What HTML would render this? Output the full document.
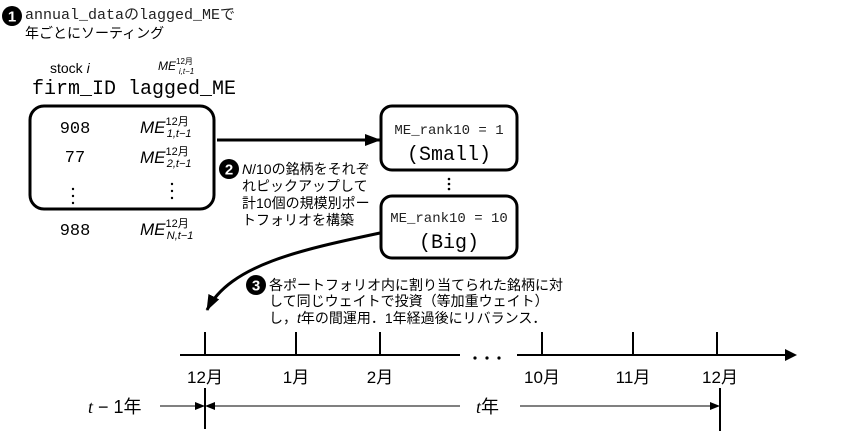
<!DOCTYPE html>
<html><head><meta charset="utf-8"><style>
body{margin:0;background:#fff}
svg{display:block}
.m{font-family:"Liberation Mono","Noto Sans CJK JP",monospace}
.s{font-family:"Liberation Sans","Noto Sans CJK JP",sans-serif}
</style></head><body>
<svg width="858" height="435" viewBox="0 0 858 435" xmlns="http://www.w3.org/2000/svg">
<defs><marker id="a" markerWidth="10" markerHeight="8" refX="9" refY="4" orient="auto" markerUnits="userSpaceOnUse"><path d="M0,0L10,4L0,8z" fill="#000"/></marker>
<marker id="b" markerWidth="16" markerHeight="12" refX="15" refY="6" orient="auto" markerUnits="userSpaceOnUse"><path d="M0,0L16,6L0,12z" fill="#000"/></marker></defs>
<circle cx="12" cy="16" r="10"/><text x="12" y="21.5" fill="#fff" font-size="15" font-weight="bold" text-anchor="middle" class="s">1</text>
<text x="25" y="19" font-size="15" class="m" fill="#222">annual_dataのlagged_MEで</text>
<text x="25" y="38" font-size="14" class="s">年ごとにソーティング</text>
<text x="50" y="73" font-size="14" class="s">stock <tspan font-style="italic">i</tspan></text>
<text x="158" y="70" font-size="12" font-style="italic" class="s">ME<tspan font-size="8" font-style="normal" dy="-6">12月</tspan><tspan font-size="8" dx="-14" dy="10">i,t−1</tspan></text>
<text x="32" y="94" font-size="20" class="m">firm_ID lagged_ME</text>
<rect x="30" y="106" width="184" height="103" rx="14" fill="none" stroke="#000" stroke-width="3"/>
<g font-size="17" class="m" text-anchor="middle"><text x="75" y="133">908</text><text x="75" y="162">77</text><text x="75" y="235">988</text></g>
<g class="s" font-style="italic" font-size="17">
<text x="140" y="133">ME<tspan font-size="11" font-style="normal" dy="-8">12月</tspan><tspan font-size="11" dx="-22" dy="12">1,t−1</tspan></text>
<text x="140" y="163">ME<tspan font-size="11" font-style="normal" dy="-8">12月</tspan><tspan font-size="11" dx="-22" dy="12">2,t−1</tspan></text>
<text x="140" y="235">ME<tspan font-size="11" font-style="normal" dy="-8">12月</tspan><tspan font-size="11" dx="-22" dy="12">N,t−1</tspan></text>
</g>
<g fill="#000"><circle cx="73" cy="189" r="1.2"/><circle cx="73" cy="196" r="1.2"/><circle cx="73" cy="203" r="1.2"/>
<circle cx="172" cy="184" r="1.2"/><circle cx="172" cy="191" r="1.2"/><circle cx="172" cy="198" r="1.2"/>
<circle cx="449" cy="179" r="1.3"/><circle cx="449" cy="184" r="1.3"/><circle cx="449" cy="189" r="1.3"/></g>
<line x1="217" y1="140" x2="380" y2="140" stroke="#000" stroke-width="3" marker-end="url(#b)"/>
<rect x="381" y="106" width="136" height="64" rx="11" fill="none" stroke="#000" stroke-width="3"/>
<rect x="381" y="196" width="136" height="62" rx="11" fill="none" stroke="#000" stroke-width="3"/>
<g class="m" text-anchor="middle"><text x="449" y="134" font-size="14" fill="#222">ME_rank10 = 1</text><text x="449" y="160" font-size="20">(Small)</text>
<text x="449" y="222" font-size="14" fill="#222">ME_rank10 = 10</text><text x="449" y="248" font-size="20">(Big)</text></g>
<circle cx="229" cy="169" r="10"/><text x="229" y="174.5" fill="#fff" font-size="15" font-weight="bold" text-anchor="middle" class="s">2</text>
<g class="s" font-size="14"><text x="242" y="174"><tspan font-style="italic">N</tspan>/10の銘柄をそれぞ</text><text x="242" y="191">れピックアップして</text><text x="242" y="208">計10個の規模別ポー</text><text x="242" y="225">トフォリオを構築</text></g>
<path d="M380,233 C300,250 230,265 207,310" fill="none" stroke="#000" stroke-width="3" marker-end="url(#b)"/>
<circle cx="256" cy="285" r="10"/><text x="256" y="290.5" fill="#fff" font-size="15" font-weight="bold" text-anchor="middle" class="s">3</text>
<g class="s" font-size="14"><text x="269" y="290">各ポートフォリオ内に割り当てられた銘柄に対</text><text x="269" y="306">して同じウェイトで投資（等加重ウェイト）</text><text x="269" y="323">し，<tspan font-style="italic">t</tspan>年の間運用．1年経過後にリバランス．</text></g>
<g stroke="#000" stroke-width="2"><line x1="180" y1="355" x2="460" y2="355"/><line x1="517" y1="355" x2="790" y2="355"/>
<line x1="205" y1="332" x2="205" y2="355"/><line x1="296" y1="332" x2="296" y2="355"/><line x1="380" y1="332" x2="380" y2="355"/>
<line x1="542" y1="332" x2="542" y2="355"/><line x1="633" y1="332" x2="633" y2="355"/><line x1="717" y1="332" x2="717" y2="355"/>
<line x1="205" y1="388" x2="205" y2="429"/><line x1="720" y1="388" x2="720" y2="431"/></g>
<path d="M785,349L797,355L785,361z"/>
<g fill="#000"><circle cx="475" cy="358" r="1.6"/><circle cx="487" cy="358" r="1.6"/><circle cx="499" cy="358" r="1.6"/></g>
<g class="s" font-size="17" text-anchor="middle"><text x="205" y="383">12月</text><text x="296" y="383">1月</text><text x="380" y="383">2月</text><text x="542" y="383">10月</text><text x="633" y="383">11月</text><text x="720" y="383">12月</text></g>
<g stroke="#000" stroke-width="1"><line x1="160" y1="406" x2="204" y2="406" marker-end="url(#a)"/><line x1="460" y1="406" x2="206" y2="406" marker-end="url(#a)"/><line x1="520" y1="406" x2="719" y2="406" marker-end="url(#a)"/></g>
<text x="88" y="413" font-size="18" class="s"><tspan font-family="Liberation Serif" font-style="italic">t</tspan> − 1年</text>
<text x="476" y="413" font-size="18" class="s"><tspan font-family="Liberation Serif" font-style="italic">t</tspan>年</text>
</svg>
</body></html>
